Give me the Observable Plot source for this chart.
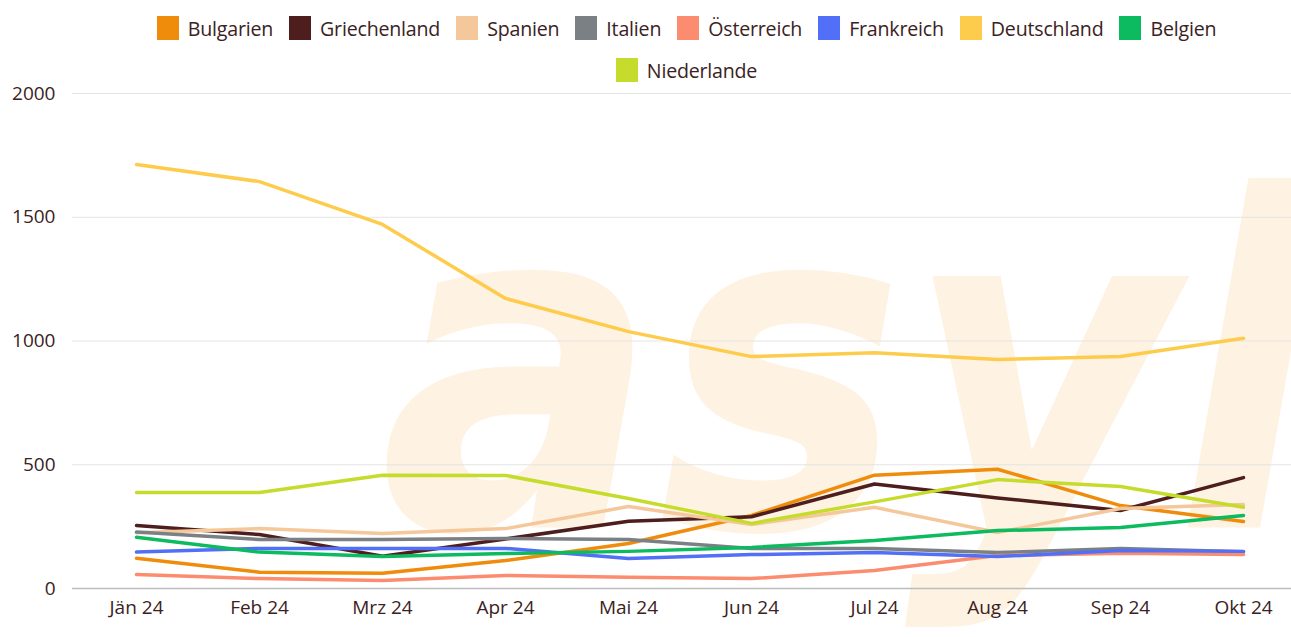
<!DOCTYPE html>
<html><head><meta charset="utf-8">
<script src="https://cdn.jsdelivr.net/npm/d3@7"></script>
<script src="https://cdn.jsdelivr.net/npm/@observablehq/plot@0.6"></script>
<style>
body{margin:0;background:#fff;font-family:"Open Sans",sans-serif;overflow:hidden}
#legend{height:85px;box-sizing:border-box;padding:16px 0 0 82px;width:1291px}
#legend .wrap{width:1130px;margin:0 auto;display:flex;flex-wrap:wrap;justify-content:center;row-gap:18px}
.item{display:flex;align-items:center;margin:0 8px;font-size:19.6px;color:#3b2222;height:24px;letter-spacing:-0.2px}
.sw{width:22px;height:24px;margin-right:9px;display:inline-block}
#chart{position:relative}
</style></head>
<body>
<div id="legend"><div class="wrap"></div></div>
<div id="chart"></div>
<script>
const months = ["Jän 24","Feb 24","Mrz 24","Apr 24","Mai 24","Jun 24","Jul 24","Aug 24","Sep 24","Okt 24"];
const countries = ["Bulgarien","Griechenland","Spanien","Italien","Österreich","Frankreich","Deutschland","Belgien","Niederlande"];
const colors = ["#ef8c0b","#4e1d1d","#f4c89a","#7b8084","#fc8c6f","#5270f7","#fdcc4c","#0cba5f","#c6dc2c"];
const bulgarien    = [122, 66, 62, 113, 182, 295, 458, 482, 335, 271];
const griechenland = [255, 218, 130, 200, 272, 290, 422, 366, 315, 448];
const spanien      = [225, 242, 222, 242, 331, 259, 328, 226, 323, 339];
const italien      = [228, 198, 198, 202, 198, 162, 162, 145, 162, 148];
const oesterreich  = [57, 40, 32, 53, 45, 40, 73, 133, 142, 137];
const frankreich   = [147, 162, 162, 162, 121, 137, 145, 129, 154, 150];
const deutschland  = [1713, 1644, 1471, 1172, 1038, 937, 953, 925, 937, 1011];
const belgien      = [207, 147, 129, 141, 150, 166, 194, 234, 246, 295];
const niederlande  = [388, 388, 458, 457, 364, 263, 350, 440, 412, 328];
const yTicks = [0, 500, 1000, 1500, 2000];
const watermark = "asyl";

const series = [bulgarien, griechenland, spanien, italien, oesterreich, frankreich, deutschland, belgien, niederlande];
const data = [];
countries.forEach((c, i) => months.forEach((m, j) => data.push({country: c, month: m, value: series[i][j]})));

const legend = document.querySelector("#legend .wrap");
countries.forEach((c, i) => {
  const d = document.createElement("div");
  d.className = "item";
  d.innerHTML = `<span class="sw" style="background:${colors[i]}"></span>${c}`;
  legend.appendChild(d);
});

const textColor = "#3b2222";
const plot = Plot.plot({
  width: 1291,
  height: 552,
  marginLeft: 72,
  marginRight: 0,
  marginTop: 8,
  marginBottom: 49,
  style: {fontFamily: "Open Sans, sans-serif", fontSize: "19px", color: textColor, background: "transparent", overflow: "visible"},
  x: {type: "point", domain: months, range: [134, 1244], padding: 0, label: null},
  y: {domain: [0, 2000], ticks: yTicks, label: null},
  color: {domain: countries, range: colors},
  marks: [
    Plot.text([watermark], {text: d => d, frameAnchor: "bottom-right", lineAnchor: "bottom", fontSize: 460, fontStyle: "italic", fontWeight: "bold", fill: "#fef2e3", textAnchor: "end", dx: 25, dy: -61, fontFamily: "DejaVu Sans Condensed"}),
    Plot.ruleY(yTicks.filter(d => d > 0), {stroke: "#e4e4e4", strokeWidth: 1}),
    Plot.ruleY([0], {stroke: "#bdbdbd", strokeWidth: 1.5}),
    Plot.axisY({ticks: yTicks, tickSize: 0, tickPadding: 17, tickFormat: d => String(d), fill: textColor, label: null}),
    Plot.axisX({tickSize: 0, tickPadding: 12, fill: textColor, label: null}),
    Plot.line(data, {x: "month", y: "value", z: "country", stroke: "country", strokeWidth: 3.5, strokeLinejoin: "round", strokeLinecap: "round"})
  ]
});
document.getElementById("chart").appendChild(plot);
</script>
</body></html>
